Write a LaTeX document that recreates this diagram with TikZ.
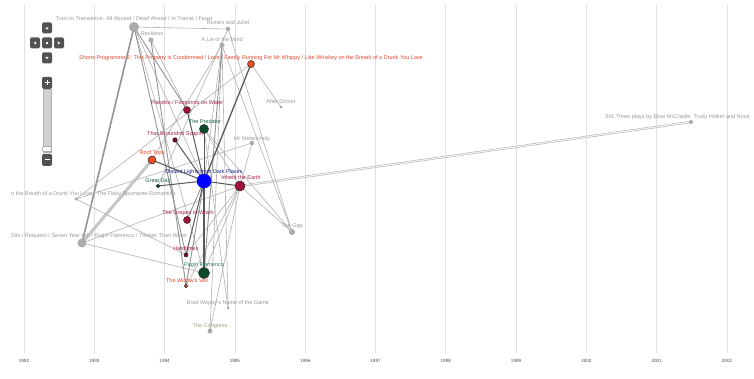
\documentclass[tikz,border=0pt]{standalone}
\usepackage{fontspec}
\setmainfont{Liberation Sans}
\usetikzlibrary{backgrounds}
\definecolor{gtxt}{HTML}{9A9A9A}
\definecolor{redtxt}{HTML}{E8452A}
\definecolor{crimtxt}{HTML}{A3204A}
\definecolor{greentxt}{HTML}{1B5E3B}
\definecolor{navytxt}{HTML}{1A237E}
\definecolor{tealtxt}{HTML}{2A7A6A}
\definecolor{olivetxt}{HTML}{A0A07A}
\definecolor{cOrange}{HTML}{EE4F22}
\definecolor{cCrimson}{HTML}{A0103A}
\definecolor{cDarkRed}{HTML}{7A0A22}
\definecolor{cGreen}{HTML}{0B4A2C}
\definecolor{cBlue}{HTML}{0000FF}
\definecolor{cGray}{HTML}{ABABAB}
\tikzset{
  gridln/.style={draw=black!12, line width=0.8pt},
  yr/.style={font=\fontsize{4.6}{5}\selectfont, text=black!70, inner sep=0pt},
  lite/.style={draw=black!30, line width=0.6pt},
  med/.style={draw=black!42, line width=0.9pt},
  dark/.style={draw=black!65, line width=1pt},
  dot/.style={circle, inner sep=0pt, draw=black!85, line width=0.5pt},
  gdot/.style={circle, inner sep=0pt, fill=cGray},
  lbl/.style={font=\fontsize{5.5}{6}\selectfont, inner sep=0pt},
  btn/.style={rectangle, rounded corners=1.5pt, fill=black!68, inner sep=0pt, minimum width=10pt, minimum height=11pt},
}
\begin{document}
\begin{tikzpicture}[x=1pt,y=-1pt]
\useasboundingbox (0,0) rectangle (754,379);
\clip (0,0) rectangle (754,379);

% ---------- nodes ----------
\node[gdot, minimum size=10pt] (train) at (134,27) {};
\node[gdot, minimum size=4.5pt] (romeo) at (228,29) {};
\node[gdot, minimum size=5pt] (reckless) at (151,40) {};
\node[gdot, minimum size=5pt] (lie) at (222,45) {};
\node[dot, fill=cOrange, minimum size=7pt] (shorts) at (251,64) {};
\node[gdot, minimum size=3pt] (after) at (281,107) {};
\node[dot, fill=cCrimson, minimum size=7pt] (placebo) at (187,110) {};
\node[dot, fill=cGreen, minimum size=9pt] (predator) at (204,129) {};
\node[dot, fill=cDarkRed, minimum size=4.5pt] (scapin) at (175,140) {};
\node[gdot, minimum size=4.5pt] (mrmel) at (252,143) {};
\node[dot, fill=cOrange, minimum size=8pt] (roof) at (152,160) {};
\node[dot, fill=cBlue, draw=cBlue, minimum size=14pt] (distant) at (204,181) {};
\node[dot, fill=cCrimson, minimum size=10pt] (inherit) at (240,186) {};
\node[dot, fill=cGreen, minimum size=3.5pt] (great) at (158,186) {};
\node[gdot, minimum size=4pt] (three) at (691,122) {};
\node[gdot, minimum size=3.5pt] (drunk) at (76,199) {};
\node[gdot, minimum size=9pt] (silo) at (82,243) {};
\node[dot, fill=cCrimson, minimum size=7pt] (grapes) at (187,220) {};
\node[dot, fill=cDarkRed, minimum size=4pt] (hard) at (186,255) {};
\node[dot, fill=cGreen, minimum size=11pt] (pugin) at (204,273) {};
\node[dot, fill=cOrange, minimum size=3.5pt] (widow) at (186,286) {};
\node[gdot, minimum size=3pt] (brad) at (228,308) {};
\node[gdot, minimum size=5pt] (congress) at (210,331) {};
\node[gdot, minimum size=6pt] (gap) at (292,232) {};

% ---------- background: grid and connectors ----------
\begin{pgfonlayer}{background}
\fill[white] (0,0) rectangle (754,379);
\foreach \i/\yy in {0/1992,1/1993,2/1994,3/1995,4/1996,5/1997,6/1998,7/1999,8/2000,9/2001,10/2002}{
  \draw[gridln] ({24+70.3*\i},5) -- ({24+70.3*\i},353);
  \node[yr] (yr\yy) at ({24+70.3*\i},361) {\yy};
}
% thick / special
\draw[draw=black!22, line width=3pt] (silo.center) -- (roof.center);
\draw[draw=black!42, line width=1.6pt] (train.center) -- (silo.center);
\draw[draw=black!38, line width=0.35pt, double=black!6, double distance=1.3pt] (inherit.center) -- (three.center);
% light
\foreach \a/\b in {train/romeo, train/pugin, train/distant, reckless/placebo, romeo/great, romeo/gap,
  lie/gap, lie/congress, lie/roof, lie/distant, shorts/after, shorts/drunk,
  predator/inherit, predator/gap, predator/brad, mrmel/inherit, mrmel/drunk,
  silo/inherit, silo/pugin, drunk/hard, inherit/gap, inherit/hard, inherit/widow,
  inherit/congress, inherit/pugin, lie/brad}{
  \draw[lite] (\a.center) -- (\b.center);
}
% medium
\foreach \a/\b in {train/placebo, train/hard, reckless/widow, lie/pugin, predator/pugin,
  distant/grapes, distant/widow}{
  \draw[med] (\a.center) -- (\b.center);
}
% dark
\foreach \a/\b in {placebo/distant, scapin/distant, roof/distant, great/distant,
  distant/inherit, distant/hard, predator/distant}{
  \draw[dark] (\a.center) -- (\b.center);
}
\draw[dark, line width=1.3pt] (shorts.center) -- (distant.center);
\draw[dark, line width=1.4pt] (distant.center) -- (pugin.center);
\end{pgfonlayer}

% ---------- labels ----------
\node[lbl, text=gtxt] (ltrain) at (134,19) {Train to Transience: All Aboard / Dead Ahead / In Transit / Feast};
\node[lbl, text=gtxt] (lromeo) at (228,23) {Romeo and Juliet};
\node[lbl, text=gtxt] (lreckless) at (152,34) {Reckless};
\node[lbl, text=gtxt] (llie) at (222,40) {A Lie of the Mind};
\node[lbl, text=redtxt] (lshorts) at (251,58) {Shorts Programme 2: This Property is Condemned / Love / Family Running For Mr Whippy / Like Whiskey on the Breath of a Drunk You Love};
\node[lbl, text=gtxt] (lafter) at (281,102) {After Dinner};
\node[lbl, text=crimtxt] (lplacebo) at (187,103) {Placebo / Footprints on Water};
\node[lbl, text=greentxt] (lpredator) at (205,122) {The Predator};
\node[lbl, text=crimtxt] (lscapin) at (175,134) {That Scoundrel Scapin};
\node[lbl, text=gtxt] (lmrmel) at (252,139) {Mr Melancholy};
\node[lbl, text=redtxt] (lroof) at (152,153) {Roof Tops};
\node[lbl, text=navytxt] (ldistant) at (204,172) {Distant Lights from Dark Places};
\node[lbl, text=crimtxt] (linherit) at (241,178) {Inherit the Earth};
\node[lbl, text=greentxt] (lgreat) at (158,181) {Great Day};
\node[lbl, text=gtxt, anchor=west] (lthree) at (605,117) {341 Three plays by Elise McCredie, Trudy Hellier and Nova};
\node[lbl, text=gtxt, anchor=west] (ldrunk) at (11,194) {n the Breath of a Drunk You Love / The Flaky Spumante Romantica};
\node[lbl, text=gtxt, anchor=west] (lsilo) at (11,236) {Silo / Requiem / Seven Year Itch / Pugin Flamenco / Thicker Than Water};
\node[lbl, text=crimtxt] (lgrapes) at (188,213) {The Grapes of Wrath};
\node[lbl, text=crimtxt] (lhard) at (186,249) {Hardtimes};
\node[lbl, text=tealtxt] (lpugin) at (204,265) {Pugin Flamenco};
\node[lbl, text=redtxt] (lwidow) at (187,281) {The Widow's Veil};
\node[lbl, text=gtxt] (lbrad) at (228,303) {Brad Woppy's Name of the Game};
\node[lbl, text=olivetxt] (lcongress) at (210,326) {The Congress};
\node[lbl, text=gtxt] (lgap) at (292,226) {The Gap};

% ---------- map controls ----------
\node[btn] (panup) at (47,28) {};
\node[btn] (panleft) at (35,43) {};
\node[btn] (pancenter) at (47,43) {};
\node[btn] (panright) at (59,43) {};
\node[btn] (pandown) at (47,58) {};
\fill[white] (45.3,29.2) -- (48.7,29.2) -- (47,26.8) -- cycle;
\fill[white] (45.3,56.8) -- (48.7,56.8) -- (47,59.2) -- cycle;
\fill[white] (36.2,41.3) -- (36.2,44.7) -- (33.8,43) -- cycle;
\fill[white] (57.8,41.3) -- (57.8,44.7) -- (60.2,43) -- cycle;
\fill[white] (45.8,41.8) rectangle (48.2,44.2);
\fill[black!18] (43,89) rectangle (51,152);
\draw[black!30, line width=0.4pt] (43,89) rectangle (51,152);
\node[rectangle, rounded corners=1pt, fill=white, draw=black!45, line width=0.5pt, minimum width=9pt, minimum height=5pt, inner sep=0pt] (thumb) at (47,149) {};
\node[btn, minimum height=12pt] (zoomin) at (47,83) {};
\node[btn, minimum height=12pt] (zoomout) at (47,160) {};
\draw[white, line width=1pt] (44.5,83) -- (49.5,83) (47,80.5) -- (47,85.5);
\draw[white, line width=1pt] (44.5,160) -- (49.5,160);
\end{tikzpicture}
\end{document}
